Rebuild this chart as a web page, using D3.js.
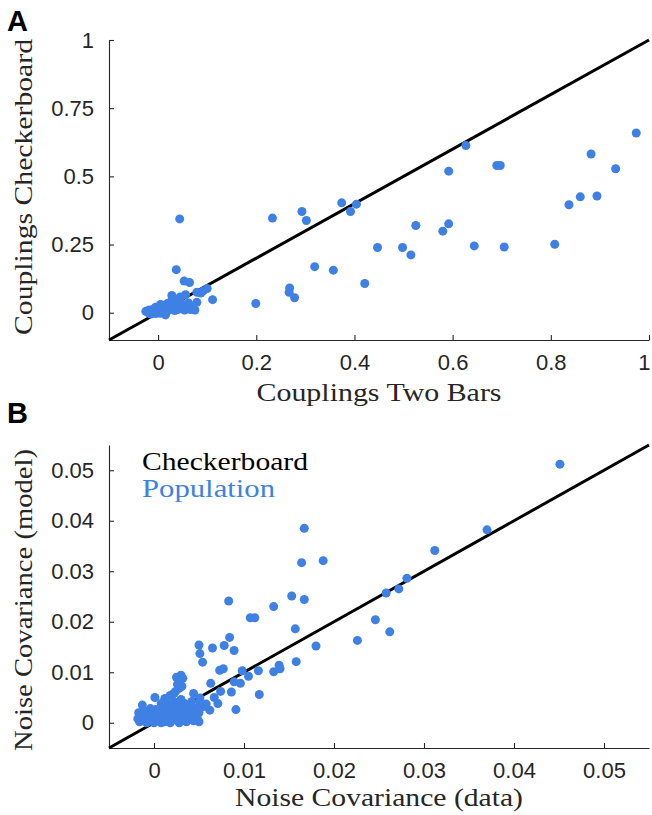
<!DOCTYPE html>
<html>
<head>
<meta charset="utf-8">
<script src="https://d3js.org/d3.v7.min.js"></script>
<style>
  body { margin: 0; background: #fff; }
  .tick text { font-family: "Liberation Sans", Arial, sans-serif; font-size: 22px; fill: #262626; }
  .lab { font-family: "Liberation Serif", "Times New Roman", serif; font-size: 25px; fill: #262626; }
</style>
</head>
<body>
<script>
// ---- data ----
// panel A: couplings, two bars (x) vs checkerboard (y)
var couplingsTwoBars = [
  0.044, 0.233, 0.293, 0.302, 0.374, 0.392, 0.404, 0.592, 0.525, 0.580, 0.592,
  0.447, 0.498, 0.515, 0.319, 0.357, 0.421, 0.268, 0.267, 0.278, 0.199, 0.111,
  0.079, 0.100, 0.092, 0.079, 0.037, 0.053, 0.064, 0.056, 0.028,
  0.974, 0.882, 0.932, 0.627, 0.690, 0.697, 0.837, 0.860, 0.894, 0.644, 0.705, 0.808,
  -0.025, -0.020, -0.018, -0.015, -0.012, -0.010, -0.008, -0.005, -0.003, 0.000,
  0.002, 0.004, 0.006, 0.008, 0.010, 0.012, 0.014, 0.016, 0.018, 0.020, 0.022,
  0.024, 0.026, 0.028, 0.030, 0.032, 0.034, 0.036, 0.038, 0.040, 0.042, 0.044,
  0.046, 0.050, 0.054, 0.058, 0.062, 0.066, 0.070, 0.075, 0.045, 0.030, 0.015,
  0.005, -0.005, 0.087
];
var couplingsCheckerboard = [
  0.344, 0.347, 0.371, 0.338, 0.403, 0.371, 0.398, 0.519, 0.320, 0.299, 0.326,
  0.239, 0.239, 0.212, 0.169, 0.156, 0.107, 0.091, 0.075, 0.055, 0.034, 0.048,
  0.038, 0.089, 0.080, 0.075, 0.158, 0.116, 0.111, 0.066, 0.063,
  0.659, 0.582, 0.528, 0.613, 0.540, 0.540, 0.396, 0.425, 0.428, 0.245, 0.241, 0.251,
  0.005, 0.000, 0.010, -0.005, 0.008, 0.002, 0.015, -0.003, 0.010, 0.005,
  0.018, -0.002, 0.012, 0.025, 0.004, 0.015, 0.028, 0.008, 0.020, 0.035, 0.010,
  0.022, 0.040, 0.015, 0.030, 0.048, 0.008, 0.020, 0.035, 0.012, 0.025, 0.045,
  0.018, 0.030, 0.010, 0.022, 0.036, 0.012, 0.020, 0.010, 0.058, 0.055, -0.008,
  0.030, 0.020, 0.072
];

// panel B: noise covariance, data (x) vs model (y)
var noiseCovData = [
  -0.0018, -0.0016, -0.0014, -0.0012, -0.0010, -0.0008, -0.0006, -0.0004, -0.0002, 0.0000,
  0.0000, 0.0002, 0.0004, 0.0006, 0.0008, 0.0010, 0.0010, 0.0012, 0.0014, 0.0016,
  0.0016, 0.0018, 0.0020, 0.0020, 0.0022, 0.0024, 0.0024, 0.0026, 0.0028, 0.0028,
  0.0030, 0.0030, 0.0032, 0.0034, 0.0034, 0.0036, 0.0038, 0.0040, 0.0040, 0.0042,
  0.0044, 0.0044, 0.0046, 0.0048, 0.0050, 0.0050, -0.0004, 0.0008, 0.0012, 0.0018,
  0.0024, 0.0028, 0.0026, 0.0029, 0.0025, 0.0030, 0.0032, 0.0031, 0.0022,
  0.0001, -0.0013, -0.0017, 0.0044, 0.0051, 0.0055, 0.0058, 0.0062, 0.0067, 0.0071,
  0.0074, 0.0063, 0.0086, 0.0091, 0.0089, 0.0096, 0.0098, 0.0105, 0.0117, 0.0116,
  0.0139, 0.0140, 0.0133, 0.0158, 0.0180, 0.0157, 0.0107, 0.0112, 0.0133, 0.0083,
  0.0153, 0.0167, 0.0164, 0.0188, 0.0167, 0.0084, 0.0078, 0.0089, 0.0065, 0.0050,
  0.0051, 0.0054, 0.0073, 0.0077, 0.0226, 0.0246, 0.0262, 0.0258, 0.0272, 0.0281,
  0.0312, 0.0370, 0.0451, 0.0051
];
var noiseCovModel = [
  0.0008, 0.0002, 0.0014, 0.0004, 0.0022, 0.0000, 0.0010, 0.0018, 0.0004, 0.0000,
  0.0012, 0.0026, 0.0006, 0.0016, 0.0000, 0.0030, 0.0010, 0.0002, 0.0020, 0.0036,
  0.0008, 0.0000, 0.0014, 0.0028, 0.0042, 0.0006, 0.0020, 0.0034, 0.0000, 0.0012,
  0.0046, 0.0026, 0.0008, 0.0018, 0.0038, 0.0002, 0.0030, 0.0010, 0.0022, 0.0042,
  0.0004, 0.0016, 0.0028, 0.0010, 0.0002, 0.0020, 0.0028, 0.0038, 0.0048, 0.0054,
  0.0062, 0.0068, 0.0076, 0.0082, 0.0090, 0.0094, 0.0088, 0.0072, 0.0058,
  0.0050, 0.0035, 0.0020, 0.0058, 0.0040, 0.0032, 0.0037, 0.0025, 0.0050, 0.0038,
  0.0062, 0.0078, 0.0061, 0.0026, 0.0081, 0.0078, 0.0103, 0.0092, 0.0056, 0.0103,
  0.0114, 0.0107, 0.0101, 0.0121, 0.0152, 0.0186, 0.0208, 0.0208, 0.0230, 0.0241,
  0.0251, 0.0244, 0.0317, 0.0321, 0.0385, 0.0169, 0.0153, 0.0143, 0.0148, 0.0154,
  0.0137, 0.0120, 0.0104, 0.0107, 0.0163, 0.0204, 0.0180, 0.0257, 0.0265, 0.0286,
  0.0341, 0.0382, 0.0512, 0.0049
];

var ticksA_x = [0, 0.2, 0.4, 0.6, 0.8, 1];
var ticksA_y = [0, 0.25, 0.5, 0.75, 1];
var ticksB = [0, 0.01, 0.02, 0.03, 0.04, 0.05];
var legendLabels = ["Checkerboard", "Population"];

// ---- drawing ----
var width = 652, height = 815;
var blue = "#3f80e4";
var axisColor = "#262626";

var svg = d3.select("body").append("svg")
  .attr("width", width)
  .attr("height", height);

var fmt = function(d) { return String(+d.toFixed(3)); };

function panel(opts) {
  var g = svg.append("g");
  var x = d3.scaleLinear().domain(opts.xd).range([109, 649]);
  var y = d3.scaleLinear().domain(opts.yd).range([opts.bottom, opts.top]);

  var xa = g.append("g")
    .attr("transform", "translate(0," + opts.bottom + ")")
    .call(d3.axisBottom(x).tickValues(opts.xt).tickFormat(fmt)
      .tickSizeInner(-5).tickSizeOuter(0).tickPadding(14));
  var ya = g.append("g")
    .attr("transform", "translate(109,0)")
    .call(d3.axisLeft(y).tickValues(opts.yt).tickFormat(fmt)
      .tickSizeInner(-5).tickSizeOuter(0).tickPadding(15));
  [xa, ya].forEach(function(a) {
    a.select(".domain").attr("stroke", axisColor).attr("stroke-width", 1.1);
    a.selectAll(".tick line").attr("stroke", axisColor).attr("stroke-width", 1.1);
  });
  // keep the right-most x label inside the page
  xa.selectAll(".tick text").filter(function(d) { return x(d) > 640; })
    .attr("text-anchor", "end").attr("dx", "1");

  // identity line
  g.append("line")
    .attr("x1", x(opts.xd[0])).attr("y1", y(opts.yd[0]))
    .attr("x2", x(opts.xd[1])).attr("y2", y(opts.yd[1]))
    .attr("stroke", "#000").attr("stroke-width", 3);

  g.selectAll("circle.pt")
    .data(d3.zip(opts.xs, opts.ys))
    .enter()
    .append("circle")
    .attr("class", "pt")
    .attr("cx", function(d) { return x(d[0]); })
    .attr("cy", function(d) { return y(d[1]); })
    .attr("r", 4.5)
    .attr("fill", blue);

  g.append("text").attr("class", "lab")
    .attr("x", 379).attr("y", opts.xlabY)
    .attr("text-anchor", "middle")
    .attr("textLength", opts.xlabLen).attr("lengthAdjust", "spacingAndGlyphs")
    .text(opts.xlab);
  g.append("text").attr("class", "lab")
    .attr("transform", "translate(32," + opts.ylabC + ") rotate(-90)")
    .attr("text-anchor", "middle")
    .attr("textLength", opts.ylabLen).attr("lengthAdjust", "spacingAndGlyphs")
    .text(opts.ylab);

  g.append("text")
    .attr("x", 7).attr("y", opts.letterY)
    .attr("font-family", "Liberation Sans, Arial, sans-serif")
    .attr("font-weight", "bold").attr("font-size", 29)
    .attr("fill", "#000")
    .text(opts.letter);
  return g;
}

panel({
  xd: [-0.1, 1], yd: [-0.1, 1], top: 40, bottom: 340,
  xt: ticksA_x, yt: ticksA_y,
  xs: couplingsTwoBars, ys: couplingsCheckerboard,
  xlab: "Couplings Two Bars", xlabY: 401, xlabLen: 245,
  ylab: "Couplings Checkerboard", ylabC: 187, ylabLen: 296,
  letter: "A", letterY: 31
});

var gB = panel({
  xd: [-0.005, 0.055], yd: [-0.005, 0.055], top: 445, bottom: 748,
  xt: ticksB, yt: ticksB,
  xs: noiseCovData, ys: noiseCovModel,
  xlab: "Noise Covariance (data)", xlabY: 806, xlabLen: 288,
  ylab: "Noise Covariance (model)", ylabC: 600, ylabLen: 302,
  letter: "B", letterY: 423
});

gB.selectAll("text.leg")
  .data(legendLabels)
  .enter()
  .append("text")
  .attr("class", "lab leg")
  .attr("x", 142)
  .attr("y", function(d, i) { return 470 + i * 27; })
  .attr("textLength", function(d, i) { return i === 0 ? 166 : 133; })
  .attr("lengthAdjust", "spacingAndGlyphs")
  .style("fill", function(d, i) { return i === 0 ? "#000" : blue; })
  .text(function(d) { return d; });
</script>
</body>
</html>
